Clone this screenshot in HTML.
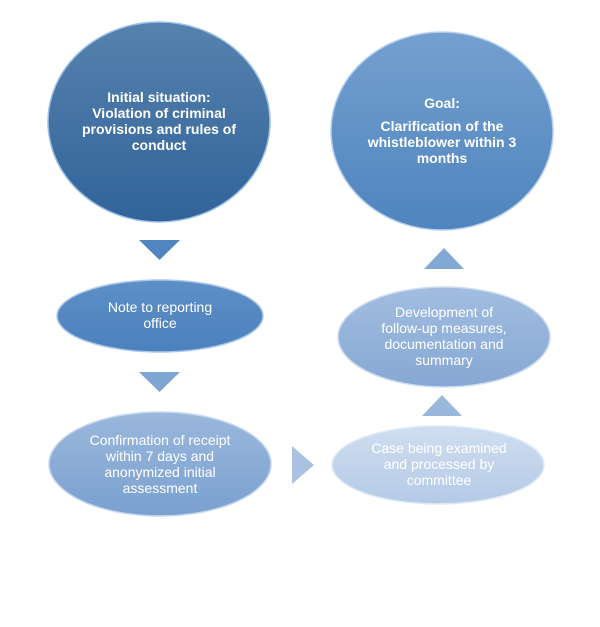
<!DOCTYPE html>
<html><head><meta charset="utf-8"><style>
html,body{margin:0;padding:0;background:#fff;}
svg{display:block}
text{font-family:"Liberation Sans",sans-serif;font-size:14px;fill:#fff;text-anchor:middle}
.b{font-weight:bold}
</style></head><body>
<svg width="600" height="627" viewBox="0 0 600 627">
<defs>
<linearGradient id="g1" x1="0" y1="0" x2="0" y2="1"><stop offset="0" stop-color="#5682ad"/><stop offset="1" stop-color="#31639a"/></linearGradient>
<linearGradient id="g2" x1="0" y1="0" x2="0" y2="1"><stop offset="0" stop-color="#74a0cf"/><stop offset="1" stop-color="#4f84be"/></linearGradient>
<linearGradient id="g3" x1="0" y1="0" x2="0" y2="1"><stop offset="0" stop-color="#5e8fc6"/><stop offset="1" stop-color="#4c81bd"/></linearGradient>
<linearGradient id="g4" x1="0" y1="0" x2="0" y2="1"><stop offset="0" stop-color="#9bb8dc"/><stop offset="1" stop-color="#7aa0cf"/></linearGradient>
<linearGradient id="g5" x1="0" y1="0" x2="0" y2="1"><stop offset="0" stop-color="#a2bde0"/><stop offset="1" stop-color="#86a8d4"/></linearGradient>
<linearGradient id="g6" x1="0" y1="0" x2="0" y2="1"><stop offset="0" stop-color="#d0def0"/><stop offset="1" stop-color="#b4cae6"/></linearGradient>
</defs>
<ellipse cx="159" cy="122" rx="111" ry="100" fill="url(#g1)" stroke="#9cc0e6" stroke-width="1.5"/>
<ellipse cx="442" cy="131" rx="111" ry="99" fill="url(#g2)" stroke="#b5d0ee" stroke-width="1.5"/>
<ellipse cx="160" cy="316" rx="103" ry="36" fill="url(#g3)" stroke="#a9c7ea" stroke-width="1.5"/>
<ellipse cx="160" cy="464" rx="111" ry="52" fill="url(#g4)" stroke="#c6d8ee" stroke-width="1.5"/>
<ellipse cx="444" cy="337" rx="106" ry="50" fill="url(#g5)" stroke="#cadbef" stroke-width="1.5"/>
<ellipse cx="438" cy="465" rx="106" ry="39" fill="url(#g6)" stroke="#e0eaf6" stroke-width="1.5"/>
<polygon points="139,240 180,240 159.5,260" fill="#4f86c0"/>
<polygon points="139,372 180,372 159.5,392" fill="#7fa6d2"/>
<polygon points="292,446 314,465 292,484" fill="#a9c2e2"/>
<polygon points="422,416 462,416 442,395" fill="#9ab8dc"/>
<polygon points="424,269 464,269 444,248" fill="#82a8d4"/>
<text class="b" x="159" y="102">Initial situation:</text>
<text class="b" x="159" y="118">Violation of criminal</text>
<text class="b" x="159" y="134">provisions and rules of</text>
<text class="b" x="159" y="150">conduct</text>
<text class="b" x="442" y="108">Goal:</text>
<text class="b" x="442" y="131">Clarification of the</text>
<text class="b" x="442" y="147">whistleblower within 3</text>
<text class="b" x="442" y="163">months</text>
<text x="160" y="312">Note to reporting</text>
<text x="160" y="328">office</text>
<text x="160" y="445">Confirmation of receipt</text>
<text x="160" y="461">within 7 days and</text>
<text x="160" y="477">anonymized initial</text>
<text x="160" y="493">assessment</text>
<text x="444" y="317">Development of</text>
<text x="444" y="333">follow-up measures,</text>
<text x="444" y="349">documentation and</text>
<text x="444" y="365">summary</text>
<text x="439" y="453">Case being examined</text>
<text x="439" y="469">and processed by</text>
<text x="439" y="485">committee</text>
</svg>
</body></html>
